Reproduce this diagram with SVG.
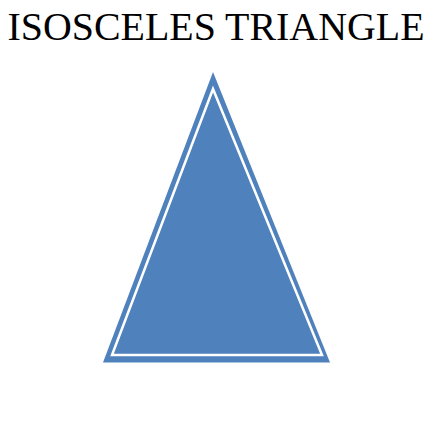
<svg xmlns="http://www.w3.org/2000/svg" width="439" height="430" viewBox="0 0 439 430">
<style>
.title{font-family:"Liberation Serif","Times New Roman",serif;font-size:40px;fill:#000}
.outer{fill:#4F81BD}
.inner{fill:none;stroke:#fff;stroke-width:2.5;stroke-linejoin:miter}
</style>
<rect width="439" height="430" fill="#fff"/>
<text class="title" x="216" y="40" text-anchor="middle" textLength="417" lengthAdjust="spacingAndGlyphs">ISOSCELES TRIANGLE</text>
<g id="triangle">
<polygon class="outer" points="213,72 103,362.5 330,362.5"/>
<polygon class="inner" points="213,89 112,355 322,355"/>
</g>
</svg>
